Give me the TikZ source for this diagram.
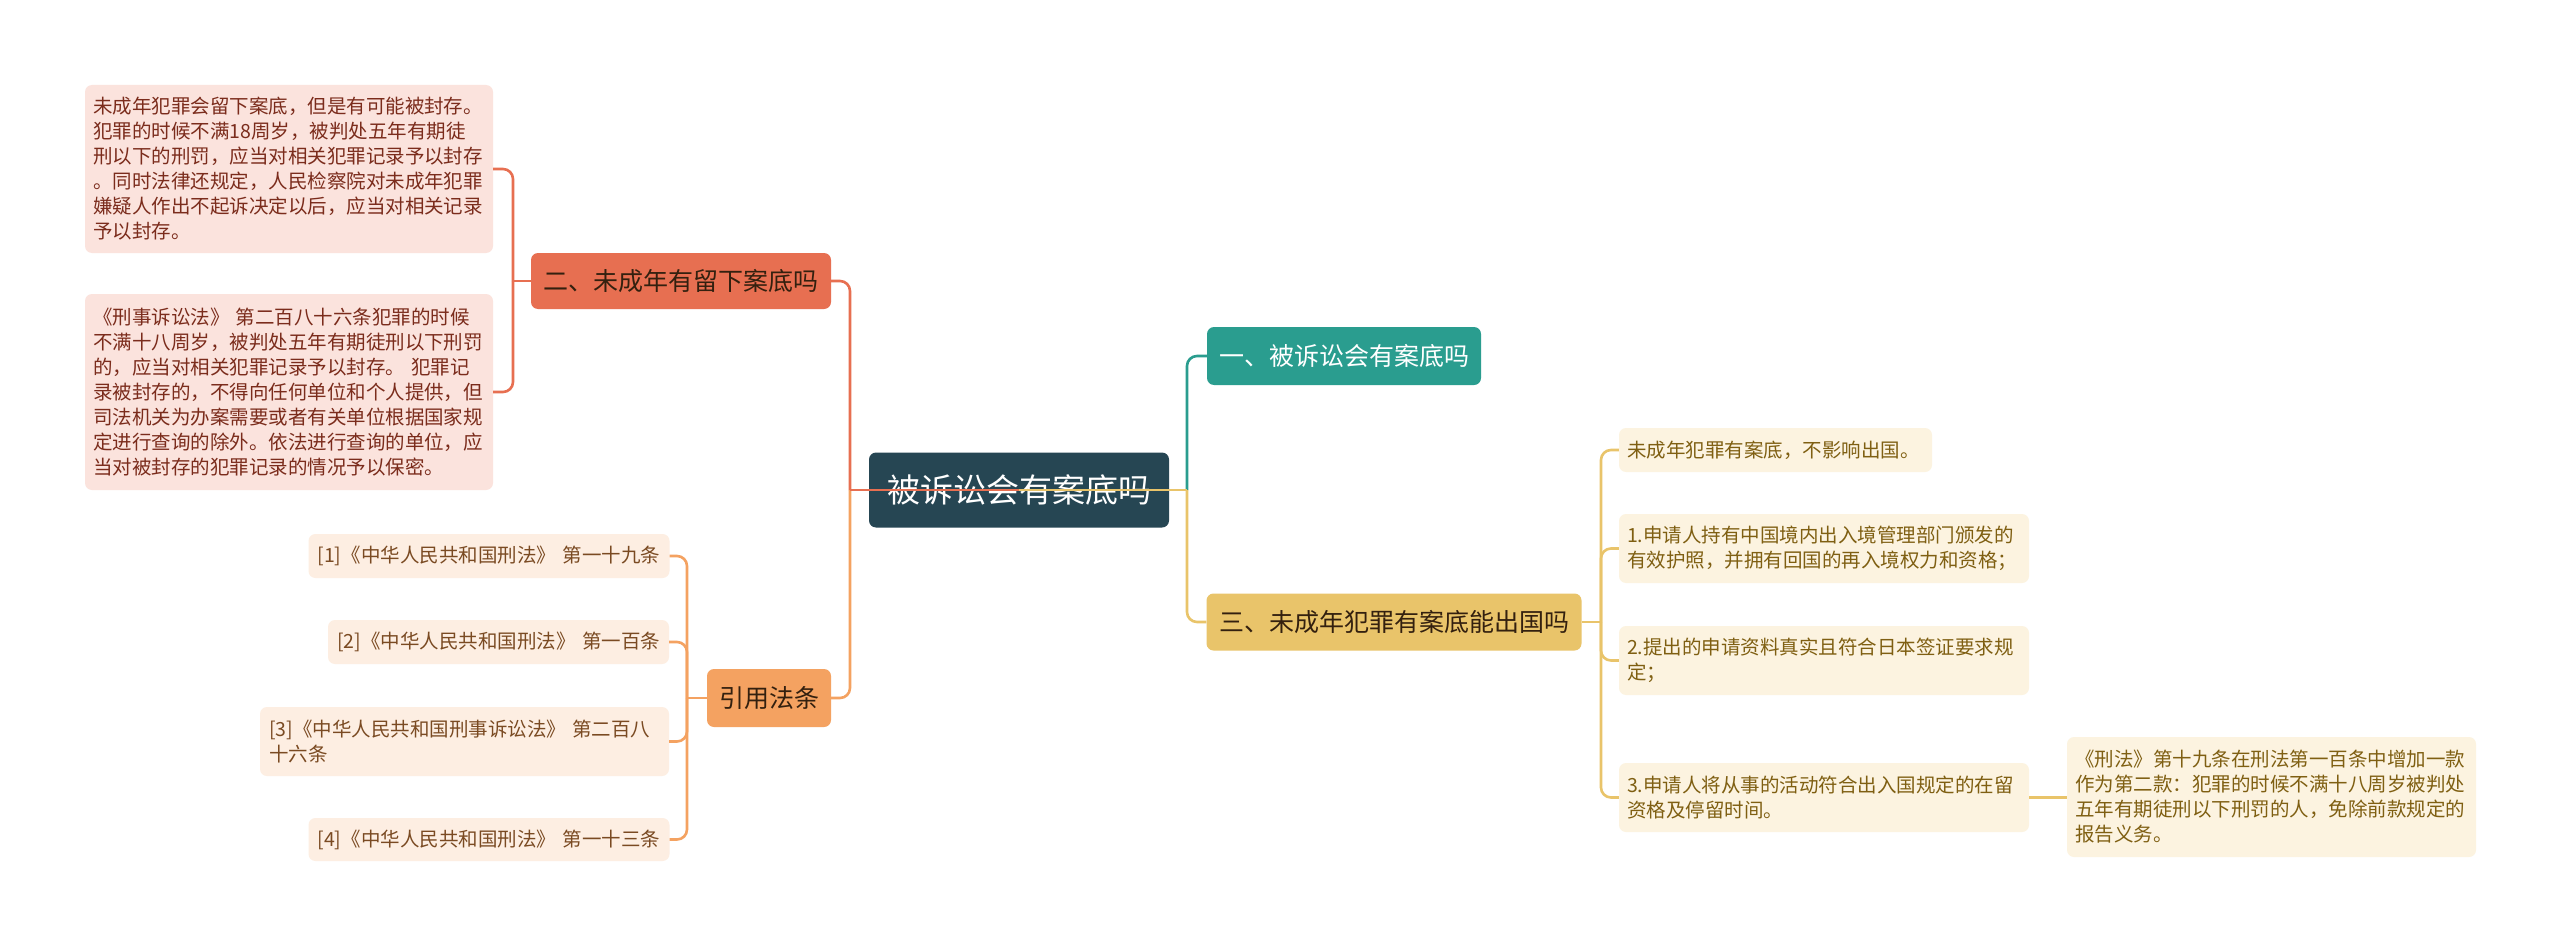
\documentclass[tikz,border=0pt]{standalone}
\usepackage{fontspec}
\setmainfont{Noto Sans CJK SC}
\definecolor{rootfill}{HTML}{264653}
\definecolor{redfill}{HTML}{E76F51}
\definecolor{tealfill}{HTML}{2A9D8F}
\definecolor{yelfill}{HTML}{E9C46A}
\definecolor{orgfill}{HTML}{F4A261}
\definecolor{redleaf}{HTML}{FBE3DD}
\definecolor{redtext}{HTML}{7B2C1C}
\definecolor{orgleaf}{HTML}{FDEEE2}
\definecolor{orgtext}{HTML}{7A4A22}
\definecolor{yelleaf}{HTML}{FCF3E0}
\definecolor{yeltext}{HTML}{7F5F12}
\definecolor{darktext}{HTML}{33200F}
\tikzset{
  every node/.style={inner sep=0pt},
  mainbox/.style={rounded corners=7pt, fill=rootfill, text=white, align=center,
    font=\fontsize{33}{40}\selectfont},
  topic/.style={rounded corners=7pt, align=center, font=\fontsize{25}{30}\selectfont},
  leaf/.style={rounded corners=7pt, align=left, inner xsep=8pt,
    font=\fontsize{19.5}{25}\selectfont},
  refleaf/.style={leaf, fill=orgleaf, text=orgtext, inner xsep=9pt},
  link/.style={line width=2.6pt, rounded corners=10pt},
}
\begin{document}
\begin{tikzpicture}[x=1pt,y=-1pt]
\fill[white] (0,0) rectangle (2560,947);
\useasboundingbox (0,0) rectangle (2560,947);

% Root
\node[mainbox, minimum width=300pt, minimum height=75pt] (root) at (1019,490) {被诉讼会有案底吗};

% Topics
\node[topic, fill=tealfill, text=white, minimum width=274pt, minimum height=58pt] (b1) at (1344,356) {一、被诉讼会有案底吗};
\node[topic, fill=redfill, text=darktext, minimum width=300pt, minimum height=56pt] (b2) at (681,281) {二、未成年有留下案底吗};
\node[topic, fill=yelfill, text=darktext, minimum width=375pt, minimum height=57pt] (b3) at (1394,622) {三、未成年犯罪有案底能出国吗};
\node[topic, fill=orgfill, text=darktext, minimum width=124pt, minimum height=58pt] (b4) at (769,698) {引用法条};

% Leaves of topic two
\node[leaf, fill=redleaf, text=redtext, text width=392pt, minimum height=168pt] (lf1) at (289,169)
  {未成年犯罪会留下案底，但是有可能被封存。\\犯罪的时候不满18周岁，被判处五年有期徒\\刑以下的刑罚，应当对相关犯罪记录予以封存\\。同时法律还规定，人民检察院对未成年犯罪\\嫌疑人作出不起诉决定以后，应当对相关记录\\予以封存。};
\node[leaf, fill=redleaf, text=redtext, text width=392pt, minimum height=196pt] (lf2) at (289,392)
  {《刑事诉讼法》~第二百八十六条犯罪的时候\\不满十八周岁，被判处五年有期徒刑以下刑罚\\的，应当对相关犯罪记录予以封存。~犯罪记\\录被封存的，不得向任何单位和个人提供，但\\司法机关为办案需要或者有关单位根据国家规\\定进行查询的除外。依法进行查询的单位，应\\当对被封存的犯罪记录的情况予以保密。};

% Cited laws
\node[refleaf, text width=343pt, minimum height=44pt] (ref1) at (489,556) {[1]《中华人民共和国刑法》~第一十九条};
\node[refleaf, text width=323pt, minimum height=44pt] (ref2) at (498.5,642) {[2]《中华人民共和国刑法》~第一百条};
\node[refleaf, text width=391pt, minimum height=69pt] (ref3) at (464.5,741.5) {[3]《中华人民共和国刑事诉讼法》~第二百八\\十六条};
\node[refleaf, text width=343pt, minimum height=43pt] (ref4) at (489,839.5) {[4]《中华人民共和国刑法》~第一十三条};

% Leaves of topic three
\node[leaf, fill=yelleaf, text=yeltext, text width=297pt, minimum height=44pt] (r0) at (1775.5,450) {未成年犯罪有案底，不影响出国。};
\node[leaf, fill=yelleaf, text=yeltext, text width=394pt, minimum height=69pt] (r1) at (1824,548.5) {1.申请人持有中国境内出入境管理部门颁发的\\有效护照，并拥有回国的再入境权力和资格；};
\node[leaf, fill=yelleaf, text=yeltext, text width=394pt, minimum height=69pt] (r2) at (1824,660.5) {2.提出的申请资料真实且符合日本签证要求规\\定；};
\node[leaf, fill=yelleaf, text=yeltext, text width=394pt, minimum height=69pt] (r3) at (1824,797.5) {3.申请人将从事的活动符合出入国规定的在留\\资格及停留时间。};
\node[leaf, fill=yelleaf, text=yeltext, text width=393pt, minimum height=120pt] (r4) at (2271.5,797) {《刑法》第十九条在刑法第一百条中增加一款\\作为第二款：犯罪的时候不满十八周岁被判处\\五年有期徒刑以下刑罚的人，免除前款规定的\\报告义务。};

% Junctions
\coordinate (jl) at (850,490);
\coordinate (jr) at (1187,490);
\coordinate (j2) at (513,281);
\coordinate (j4) at (687,698);
\coordinate (j3) at (1601,622);

% Root links
\draw[link, redfill] (jl) |- (b2.east);
\draw[link, orgfill] (jl) |- (b4.east);
\draw[link, tealfill] (jr) |- (b1.west);
\draw[link, yelfill] (jr) |- (b3.west);
\draw[line width=2.6pt, redfill] (jl) -- (root.center);
\draw[line width=2.6pt, yelfill] (root.center) -- (jr);

% Leaf links
\draw[link, redfill] (b2.west) -- (j2);
\foreach \n in {lf1, lf2}
    \draw[link, redfill] (j2) |- (\n.east);
\draw[link, orgfill] (b4.west) -- (j4);
\foreach \n in {ref1, ref2, ref3, ref4}
    \draw[link, orgfill] (j4) |- (\n.east);
\draw[link, yelfill] (b3.east) -- (j3);
\foreach \n in {r0, r1, r2, r3}
    \draw[link, yelfill] (j3) |- (\n.west);
\draw[link, yelfill] (r3.east) -- (r3.east -| r4.west);
\end{tikzpicture}
\end{document}
